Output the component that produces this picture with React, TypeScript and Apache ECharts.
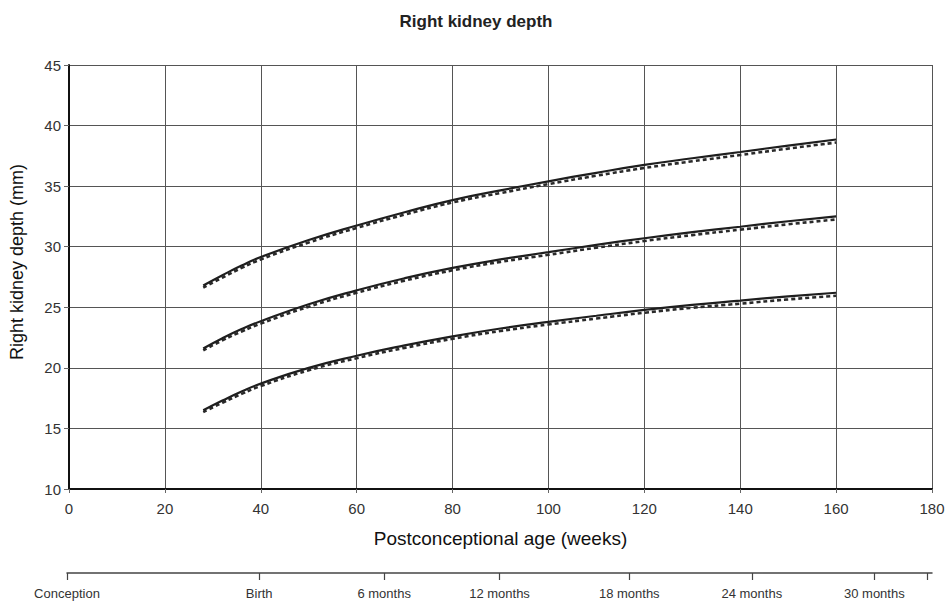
import React, { useEffect, useRef } from "react";
import * as echarts from "echarts";

const weeks = [28, 32, 36, 40, 50, 60, 70, 80, 90, 100, 110, 120, 130, 140, 150, 160];

const upperSolid = [26.8, 27.65, 28.45, 29.15, 30.55, 31.75, 32.85, 33.85, 34.65, 35.4, 36.1, 36.75, 37.3, 37.82, 38.35, 38.85];
const upperDashed = [26.62, 27.45, 28.25, 28.95, 30.35, 31.55, 32.65, 33.65, 34.43, 35.17, 35.86, 36.5, 37.05, 37.57, 38.1, 38.6];
const middleSolid = [21.6, 22.45, 23.2, 23.85, 25.25, 26.4, 27.4, 28.25, 28.95, 29.55, 30.15, 30.7, 31.2, 31.65, 32.1, 32.5];
const middleDashed = [21.45, 22.27, 23.0, 23.65, 25.05, 26.2, 27.2, 28.05, 28.75, 29.33, 29.92, 30.47, 30.96, 31.41, 31.85, 32.25];
const lowerSolid = [16.5, 17.3, 18.05, 18.7, 20.0, 21.0, 21.85, 22.6, 23.25, 23.8, 24.3, 24.78, 25.2, 25.55, 25.9, 26.2];
const lowerDashed = [16.35, 17.12, 17.85, 18.5, 19.8, 20.8, 21.65, 22.4, 23.04, 23.58, 24.07, 24.55, 24.96, 25.3, 25.65, 25.95];

const ageTickWeeks = [0, 40, 66, 90, 117, 142.5, 168, 179];
const ageTickLabels = ["Conception", "Birth", "6 months", "12 months", "18 months", "24 months", "30 months", ""];

const FONT = "'Liberation Sans', Arial, sans-serif";

function pairs(ys: number[]) {
  return weeks.map((w, i) => [w, ys[i]]);
}

export default function App() {
  const ref = useRef<HTMLDivElement>(null);
  useEffect(() => {
    if (!ref.current) return;
    const chart = echarts.init(ref.current, undefined, { renderer: "svg" });
    const solidStyle = { color: "#1e1e1e", width: 2.2, type: "solid" as const };
    const dashedStyle = { color: "#2a2a2a", width: 2.6, type: [4, 3] as any };
    const mk = (ys: number[], dashed: boolean) => ({
      type: "line",
      xAxisIndex: 0,
      yAxisIndex: 0,
      data: pairs(ys),
      smooth: true,
      showSymbol: false,
      symbol: "none",
      lineStyle: dashed ? dashedStyle : solidStyle,
      z: dashed ? 3 : 4,
    });
    chart.setOption({
      animation: false,
      backgroundColor: "#ffffff",
      title: {
        text: "Right kidney depth",
        left: "center",
        top: 8,
        textStyle: { fontFamily: FONT, fontSize: 17, fontWeight: "bold", color: "#222" },
      },
      grid: [
        { left: 67, right: 20, top: 65, bottom: 116, containLabel: false },
        { left: 67, right: 20, top: 572, height: 1, containLabel: false },
      ],
      xAxis: [
        {
          type: "value",
          gridIndex: 0,
          min: 0,
          max: 180,
          interval: 20,
          name: "Postconceptional age (weeks)",
          nameLocation: "middle",
          nameGap: 40,
          nameTextStyle: { fontFamily: FONT, fontSize: 19, color: "#111" },
          axisLine: { show: true, onZero: false, lineStyle: { color: "#111", width: 2 } },
          axisTick: { show: true, length: 4, lineStyle: { color: "#666" } },
          axisLabel: { fontFamily: FONT, fontSize: 15, color: "#333", margin: 12 },
          splitLine: { show: true, lineStyle: { color: "#555", width: 1 } },
        },
        {
          type: "value",
          gridIndex: 1,
          min: 0,
          max: 180,
          position: "bottom",
          axisLine: { show: true, lineStyle: { color: "#444", width: 1.5 } },
          axisTick: {
            show: true,
            customValues: ageTickWeeks,
            length: 7,
            lineStyle: { color: "#444", width: 1.2 },
          },
          axisLabel: {
            show: true,
            customValues: ageTickWeeks,
            fontFamily: FONT,
            fontSize: 13,
            color: "#333",
            margin: 14,
            formatter: (v: number) => {
              const i = ageTickWeeks.indexOf(v);
              return i >= 0 ? ageTickLabels[i] : "";
            },
          },
          splitLine: { show: false },
        },
      ],
      yAxis: [
        {
          type: "value",
          gridIndex: 0,
          min: 10,
          max: 45,
          interval: 5,
          name: "Right kidney depth (mm)",
          nameLocation: "middle",
          nameGap: 43,
          nameTextStyle: { fontFamily: FONT, fontSize: 18, color: "#111", padding: [0, 0, 0, 30] },
          axisLine: { show: true, onZero: false, lineStyle: { color: "#111", width: 2 } },
          axisTick: { show: true, length: 5, lineStyle: { color: "#666" } },
          axisLabel: { fontFamily: FONT, fontSize: 15, color: "#333", margin: 8 },
          splitLine: { show: true, lineStyle: { color: "#555", width: 1 } },
        },
        {
          type: "value",
          gridIndex: 1,
          show: false,
          min: 0,
          max: 1,
        },
      ],
      series: [
        mk(upperDashed, true),
        mk(middleDashed, true),
        mk(lowerDashed, true),
        mk(upperSolid, false),
        mk(middleSolid, false),
        mk(lowerSolid, false),
      ],
    });
    return () => chart.dispose();
  }, []);
  return (
    <div
      ref={ref}
      style={{ position: "absolute", left: 0, top: 0, width: 952, height: 605 }}
    />
  );
}
